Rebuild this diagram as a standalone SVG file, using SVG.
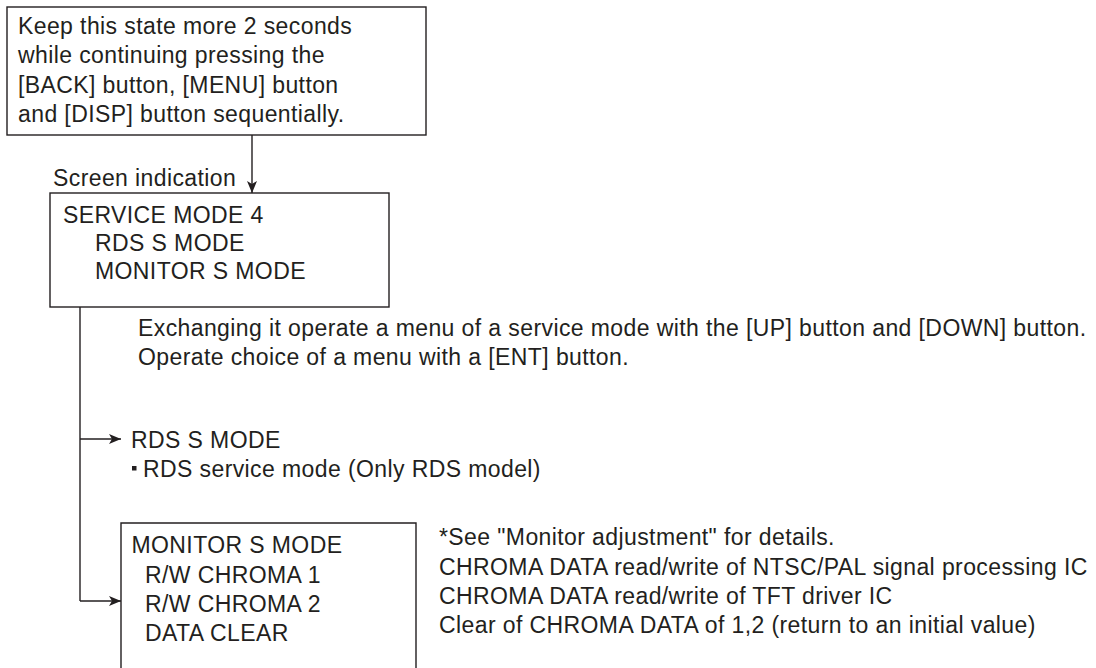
<svg xmlns="http://www.w3.org/2000/svg" width="1096" height="668" viewBox="0 0 1096 668">
<style>
text{font-family:"Liberation Sans",Arial,sans-serif;font-size:23px;fill:#231f20;letter-spacing:0.4px}
.box{fill:none;stroke:#231f20;stroke-width:1.4}
.ln{fill:none;stroke:#231f20;stroke-width:1.4}
</style>
<defs>
<marker id="ah" viewBox="0 0 12 10" refX="12" refY="5" markerWidth="12" markerHeight="10" markerUnits="userSpaceOnUse" orient="auto">
<path d="M0,0 L12,5 L0,10 L3,5 Z" fill="#231f20"/>
</marker>
</defs>
<rect width="1096" height="668" fill="#fff"/>
<g id="connectors">
<line class="ln" x1="252" y1="135" x2="252" y2="193" marker-end="url(#ah)"/>
<line class="ln" x1="80" y1="307" x2="80" y2="601"/>
<line class="ln" x1="80" y1="439" x2="121" y2="439" marker-end="url(#ah)"/>
<line class="ln" x1="80" y1="601" x2="121" y2="601" marker-end="url(#ah)"/>
</g>
<g id="start">
<rect class="box" x="7" y="7" width="419" height="128"/>
<text x="18" y="34">Keep this state more 2 seconds</text>
<text x="18" y="63">while continuing pressing the</text>
<text x="18" y="92.5">[BACK] button, [MENU] button</text>
<text x="18" y="121.5">and [DISP] button sequentially.</text>
</g>
<g id="screen-label">
<text x="53" y="186">Screen indication</text>
</g>
<g id="service-mode">
<rect class="box" x="50" y="193" width="339" height="114"/>
<text x="63" y="223">SERVICE MODE 4</text>
<text x="95" y="251">RDS S MODE</text>
<text x="95" y="279">MONITOR S MODE</text>
</g>
<g id="note">
<text x="138" y="336">Exchanging it operate a menu of a service mode with the [UP] button and [DOWN] button.</text>
<text x="138" y="365">Operate choice of a menu with a [ENT] button.</text>
</g>
<g id="rds">
<text x="131" y="448">RDS S MODE</text>
<rect x="132" y="466" width="4.5" height="4.5" fill="#231f20"/>
<text x="143" y="477">RDS service mode (Only RDS model)</text>
</g>
<g id="monitor">
<path class="box" d="M121,670 L121,523 L416,523 L416,670"/>
<text x="131.5" y="553">MONITOR S MODE</text>
<text x="145" y="583">R/W CHROMA 1</text>
<text x="145" y="612">R/W CHROMA 2</text>
<text x="145" y="641">DATA CLEAR</text>
</g>
<g id="monitor-notes">
<text x="439" y="545">*See "Monitor adjustment" for details.</text>
<text x="439" y="575">CHROMA DATA read/write of NTSC/PAL signal processing IC</text>
<text x="439" y="604">CHROMA DATA read/write of TFT driver IC</text>
<text x="439" y="633">Clear of CHROMA DATA of 1,2 (return to an initial value)</text>
</g>
</svg>
